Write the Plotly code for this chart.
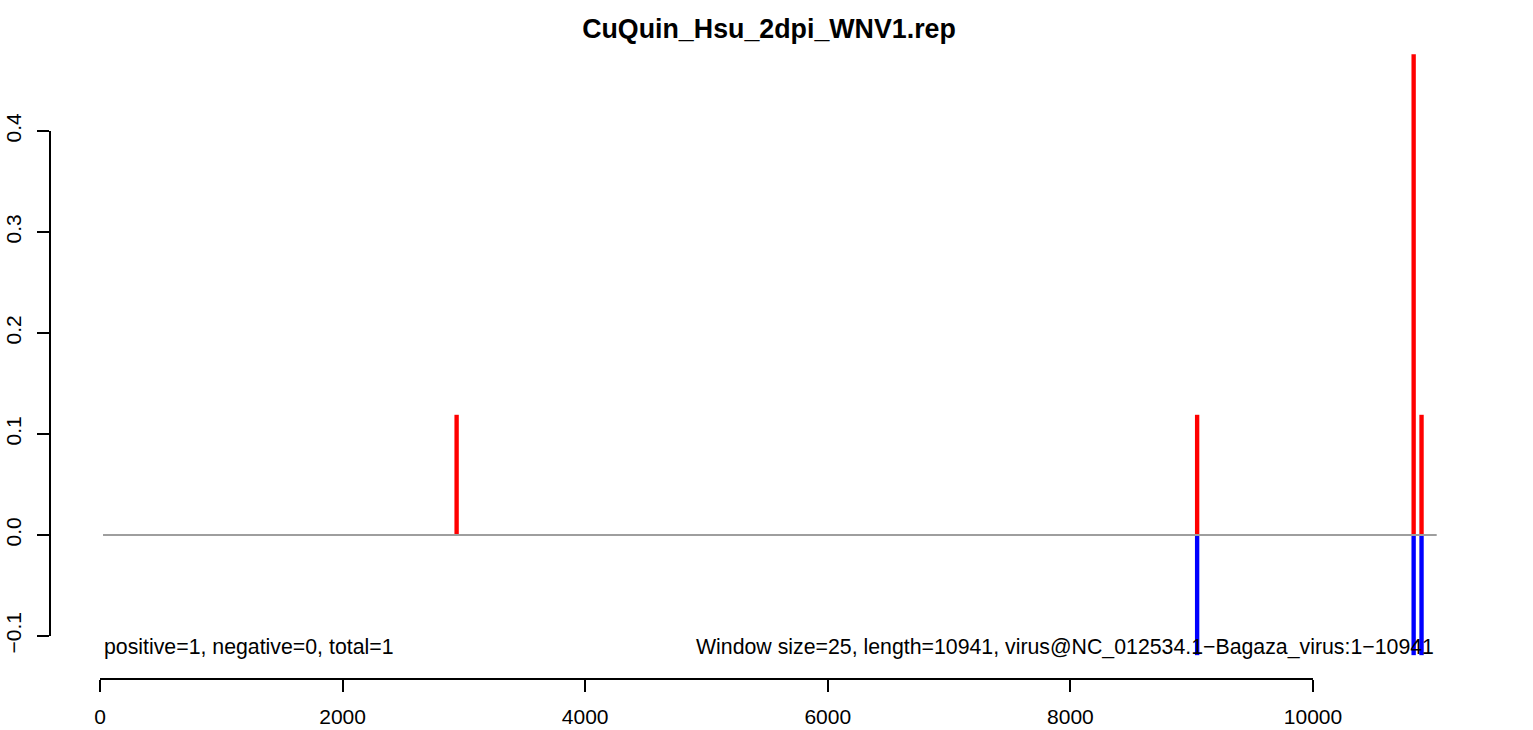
import plotly.graph_objects as go

# Signal per window position
pos_x = [2940, 9045, 10830, 10895]
pos_y = [0.119, 0.119, 0.476, 0.119]
neg_x = [9045, 10830, 10895]
neg_y = [-0.119, -0.119, -0.119]

x_ticks = [0, 2000, 4000, 6000, 8000, 10000]
y_ticks = [-0.1, 0.0, 0.1, 0.2, 0.3, 0.4]
y_tick_labels = ["\u22120.1", "0.0", "0.1", "0.2", "0.3", "0.4"]

title_text = "CuQuin_Hsu_2dpi_WNV1.rep"
left_note = "positive=1, negative=0, total=1"
right_note = "Window size=25, length=10941, virus@NC_012534.1\u2212Bagaza_virus:1\u221210941"
genome_start = 25
genome_end = 11020

FONT = "Liberation Sans, Arial, sans-serif"

fig = go.Figure()

# zero baseline
fig.add_trace(go.Scatter(x=[genome_start, genome_end], y=[0, 0], mode="lines",
                         line=dict(color="#9e9e9e", width=2), hoverinfo="skip",
                         showlegend=False))

fig.add_trace(go.Bar(x=pos_x, y=pos_y, width=36, marker=dict(color="#ff0000", line_width=0),
                     showlegend=False))
fig.add_trace(go.Bar(x=neg_x, y=neg_y, width=36, marker=dict(color="#0000ff", line_width=0),
                     showlegend=False))

fig.update_layout(
    width=1533, height=730,
    margin=dict(l=50, r=53, t=30, b=51),
    paper_bgcolor="white", plot_bgcolor="white",
    barmode="relative",
    font=dict(family=FONT, size=21, color="black"),
    title=dict(text="<b>" + title_text + "</b>", x=0.5028, xref="paper",
               y=1 - 29 / 730, yref="container", xanchor="center", yanchor="middle",
               font=dict(family=FONT, size=26.8, color="black")),
    xaxis=dict(range=[-412.2, 11377], showgrid=False, zeroline=False, showline=False,
               automargin=False,
               tickmode="array", tickvals=x_ticks, ticktext=[str(v) for v in x_ticks],
               ticks="outside", ticklen=12, tickwidth=2, tickcolor="black",
               ticklabelstandoff=7,
               tickfont=dict(family=FONT, size=21, color="black")),
    yaxis=dict(range=[-0.1426, 0.5], showgrid=False, zeroline=False, showline=False,
               automargin=False,
               tickmode="array", tickvals=y_ticks, ticktext=y_tick_labels,
               ticks="outside", ticklen=12, tickwidth=2, tickcolor="black", tickangle=-90,
               ticklabelstandoff=8,
               tickfont=dict(family=FONT, size=21, color="black")),
    shapes=[
        dict(type="line", xref="x", yref="paper", x0=x_ticks[0], x1=x_ticks[-1], y0=0, y1=0,
             line=dict(color="black", width=2)),
        dict(type="line", xref="paper", yref="y", x0=0, x1=0, y0=y_ticks[0], y1=y_ticks[-1],
             line=dict(color="black", width=2)),
    ],
    annotations=[
        dict(text=left_note, x=15, y=-0.111, xref="x", yref="y", xanchor="left",
             yanchor="middle", showarrow=False, font=dict(family=FONT, size=21.3, color="black")),
        dict(text=right_note, x=11018, y=-0.111, xref="x", yref="y", xanchor="right",
             yanchor="middle", showarrow=False, font=dict(family=FONT, size=21.3, color="black")),
    ],
)

fig.write_html("out.html")
